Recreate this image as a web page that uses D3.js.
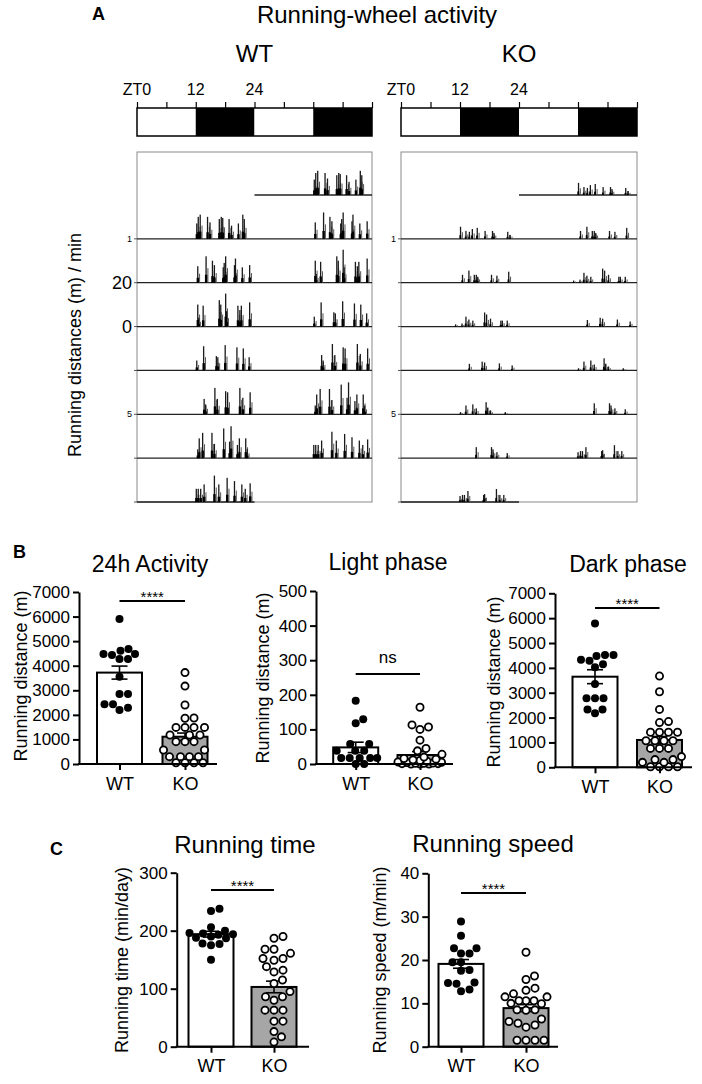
<!DOCTYPE html>
<html>
<head>
<meta charset="utf-8">
<script src="https://cdn.jsdelivr.net/npm/d3@7"></script>
<style>
  body { margin: 0; background: #fff; }
  svg { display: block; font-family: "Liberation Sans", Arial, sans-serif; }
</style>
</head>
<body>
<script>
// ---- data ----
var groups = ["WT", "KO"];

// light/dark schedule of the double-plotted actogram (hours)
var ldPhases = [[0, 12, "light"], [12, 24, "dark"], [24, 36, "light"], [36, 48, "dark"]];
var ztTicks = [0, 6, 12, 18, 24, 30, 36, 42, 48];
var ztLabels = [[0, "ZT0"], [12, "12"], [24, "24"]];

// running bouts per day: [ZT hour, m/min]
var wtBouts = [
    [[12.2, 7], [12.5, 10], [12.9, 11], [14.4, 10], [14.9, 7.5], [16.8, 9], [17.2, 10], [17.5, 9.5], [18.8, 9], [19.3, 6], [20.7, 7], [21.6, 11], [21.9, 9]],
    [[12.4, 7.5], [14.1, 12], [15.4, 10], [15.8, 8], [17.6, 7], [17.8, 9], [18.1, 12], [19.9, 8], [20.1, 11], [21.5, 7], [23.0, 8]],
    [[12.4, 10], [12.6, 4], [13.5, 9.5], [16.8, 12], [17.1, 10], [18.1, 15], [18.3, 7], [20.6, 9.5], [21.0, 7.5], [21.3, 9.5], [23.0, 11]],
    [[12.2, 4.5], [13.6, 11], [16.2, 6.5], [16.5, 6], [18.0, 11.5], [20.4, 10.5], [21.7, 10], [22.9, 6]],
    [[13.7, 7], [14.0, 4.5], [15.9, 12], [16.4, 7], [18.1, 10.5], [18.5, 10], [21.0, 12], [21.6, 7.5], [23.1, 10]],
    [[12.4, 4], [12.7, 9], [13.4, 11.5], [15.3, 11.5], [15.8, 6.5], [17.7, 13.5], [18.9, 7.5], [19.2, 14.5], [20.5, 6], [20.9, 9], [22.2, 9], [22.5, 4]],
    [[12.1, 6], [12.5, 6], [13.0, 6], [13.7, 8], [15.8, 12], [16.7, 8], [18.4, 11], [19.9, 9.5], [21.4, 8], [22.1, 6], [23.1, 8.5]]
];
var koBouts = [
    [[12.1, 5.5], [13.2, 3.6], [13.9, 3.2], [14.5, 4.5], [15.5, 5], [17.1, 3.6], [18.6, 3.6], [18.9, 2.7], [21.7, 3.2], [22.2, 1.8]],
    [[12.5, 3.6], [13.8, 5.5], [14.9, 3.6], [15.3, 3.6], [15.6, 2.7], [18.4, 3.6], [19.5, 3.2], [21.9, 5]],
    [[11.1, 1], [12.4, 1.4], [13.2, 4.5], [13.8, 3.2], [14.6, 2.7], [17.0, 6.4], [17.4, 5.5], [18.2, 3.6], [20.3, 2.7], [20.6, 2.7], [21.6, 2.7]],
    [[13.9, 3], [16.5, 4], [17.0, 3.6], [20.0, 3.2], [22.6, 2.3]],
    [[12.1, 1], [13.2, 4], [14.6, 4.5], [15.3, 2.7], [17.3, 5.5], [17.6, 3], [18.2, 1.8], [21.2, 1]],
    [[15.3, 5], [18.4, 5], [18.7, 4], [19.5, 2.7], [21.6, 2.3]],
    [[12.0, 2.7], [12.5, 3.2], [12.9, 3.2], [13.6, 5], [16.8, 3.2], [17.0, 3.6], [19.4, 5.9], [20.1, 3.2], [20.9, 3.2]]
];
var wtRowLabels = ["", "1", "20", "0", "", "5", "", ""];
var koRowLabels = ["", "1", "", "", "", "5", "", ""];

// B: running distance (m)
var act24WT = [5900, 4610, 4480, 4680, 4270, 4270, 4440, 4480, 3550, 2850, 2850, 2430, 2430, 2200, 2290];
var act24KO = [3720, 3170, 2400, 1860, 1870, 1490, 1490, 1490, 1490, 1180, 1180, 1180, 910, 910, 910, 570, 570, 300, 300, 300, 300, 50, 50, 50, 50];
var act24Mean = [3720, 1110];
var act24Sem = [265, 150];

var lightWT = [183, 129, 118, 58, 58, 38, 38, 38, 17, 17, 17, 17, 17, 0, 0];
var lightKO = [164, 113, 107, 100, 69, 45, 38, 28, 20, 16, 14, 12, 10, 8, 6, 5, 4, 3, 2, 2, 1, 1, 0, 0, 0];
var lightMean = [48, 26];
var lightSem = [15, 10];

var darkWT = [5790, 4520, 4480, 4520, 4330, 4290, 4150, 4020, 3350, 2780, 2780, 2780, 2330, 2330, 2170];
var darkKO = [3670, 3040, 2330, 1800, 1840, 1410, 1410, 1410, 1410, 1070, 1070, 1070, 1070, 760, 760, 760, 430, 310, 310, 200, 200, 20, 20, 20, 20];
var darkMean = [3645, 1100];
var darkSem = [280, 140];

// C: running time (min/day) and speed (m/min)
var timeWT = [238, 234, 206, 200, 196, 195, 194, 193, 190, 188, 187, 178, 177, 175, 150];
var timeKO = [187, 190, 168, 168, 161, 152, 149, 152, 138, 129, 132, 115, 109, 95, 86, 86, 80, 63, 63, 63, 44, 44, 26, 17, 8];
var timeMean = [194, 103];
var timeSem = [5, 10];

var speedWT = [28.9, 25.6, 22.7, 22.7, 21.5, 21.5, 19.5, 19.5, 17.7, 17.5, 14.7, 14.8, 14.5, 13.2, 12.8];
var speedKO = [21.8, 16.3, 15.5, 13.5, 13.0, 12.2, 11.5, 11.5, 10.6, 10.6, 10.6, 10.0, 9.9, 8.5, 8.5, 8.4, 6.4, 5.8, 5.4, 4.5, 5.0, 1.5, 1.5, 1.5, 1.5];
var speedMean = [19.1, 8.9];
var speedSem = [1.0, 0.8];

// ---- drawing ----
var svg = d3.select("body").append("svg")
    .attr("width", 702)
    .attr("height", 1084);

var addText = function(g, txt, x, y, size, anchor, weight) {
    return g.append("text")
        .text(txt)
        .attr("x", x)
        .attr("y", y)
        .attr("font-size", size)
        .attr("text-anchor", anchor || "middle")
        .attr("font-weight", weight || "normal")
        .attr("fill", "#000");
}

var addRotated = function(g, txt, cx, cy, size) {
    g.append("text")
        .text(txt)
        .attr("transform", "translate(" + cx + "," + cy + ") rotate(-90)")
        .attr("text-anchor", "middle")
        .attr("dy", "0.35em")
        .attr("font-size", size)
        .attr("fill", "#000");
}

// panel A
addText(svg, "A", 92, 20, 18, "start", "bold");
addText(svg, "Running-wheel activity", 377, 23, 24);
addRotated(svg, "Running distances (m) / min", 75, 345, 18);

var drawActogram = function(cfg) {
    var x = d3.scaleLinear().domain([0, 48]).range([cfg.left, cfg.right]);
    var rowY = d3.scaleLinear().domain([0, 7]).range([195, 502]);
    var barH = d3.scaleLinear().domain([0, 20]).range([0, 44]);
    var g = svg.append("g");

    addText(g, cfg.name, (cfg.left + cfg.right) / 2, 62, 24);

    // light/dark bar
    g.selectAll("rect.ld")
        .data(ldPhases)
        .enter()
        .append("rect")
        .attr("x", function(d) { return x(d[0]); })
        .attr("y", 108)
        .attr("width", function(d) { return x(d[1]) - x(d[0]); })
        .attr("height", 28)
        .attr("fill", function(d) { return d[2] == "dark" ? "#000" : "#fff"; });
    g.append("rect")
        .attr("x", x(0)).attr("y", 108)
        .attr("width", x(48) - x(0)).attr("height", 28)
        .attr("fill", "none").attr("stroke", "#000").attr("stroke-width", 1.5);

    var ax = g.append("g")
        .attr("transform", "translate(0,108)")
        .call(d3.axisTop(x).tickValues(ztTicks).tickSize(6).tickFormat(""));
    ax.select(".domain").remove();
    ax.selectAll(".tick line").attr("stroke", "#000").attr("stroke-width", 1.2);

    ztLabels.forEach(function(d) {
        addText(g, d[1], x(d[0]), 95, 16);
    });

    // frame
    g.append("rect")
        .attr("x", x(0)).attr("y", 152)
        .attr("width", x(48) - x(0)).attr("height", rowY(7) - 152)
        .attr("fill", "none").attr("stroke", "#8a8a8a").attr("stroke-width", 1);

    // small ticks on the left edge
    g.selectAll("line.rtick")
        .data(d3.range(1, 8))
        .enter()
        .append("line")
        .attr("x1", x(0) - 3).attr("x2", x(0))
        .attr("y1", function(r) { return rowY(r); })
        .attr("y2", function(r) { return rowY(r); })
        .attr("stroke", "#555").attr("stroke-width", 1);

    g.selectAll("text.rlab")
        .data(cfg.rowLabels)
        .enter()
        .append("text")
        .text(function(d) { return d; })
        .attr("x", x(0) - 5)
        .attr("y", function(d, r) { return rowY(r); })
        .attr("dy", "0.35em")
        .attr("text-anchor", "end")
        .attr("font-size", function(d) { return d.length > 1 || d == "0" ? 18 : 9; });

    // baselines: row 0 only has the second day, row 7 only the first
    var rows = d3.range(8).map(function(r) {
        return [r == 0 ? 24 : 0, r == 7 ? 24 : 48, r];
    });
    g.selectAll("line.base")
        .data(rows)
        .enter()
        .append("line")
        .attr("x1", function(d) { return x(d[0]); })
        .attr("x2", function(d) { return x(d[1]); })
        .attr("y1", function(d) { return rowY(d[2]); })
        .attr("y2", function(d) { return rowY(d[2]); })
        .attr("stroke", "#222").attr("stroke-width", 1.3);

    // double plot: day d on the right of row d and on the left of row d+1
    var recs = [];
    cfg.bouts.forEach(function(day, d) {
        day.forEach(function(b) {
            recs.push({ row: d, zt: b[0] + 24, v: b[1] });
            recs.push({ row: d + 1, zt: b[0], v: b[1] });
        });
    });

    g.selectAll("rect.comp")
        .data(recs)
        .enter()
        .append("rect")
        .attr("x", function(d) { return x(d.zt + 0.28); })
        .attr("width", 1)
        .attr("y", function(d) { return rowY(d.row) - barH(d.v) * 0.55; })
        .attr("height", function(d) { return barH(d.v) * 0.55; })
        .attr("fill", "#555");
    g.selectAll("rect.bout")
        .data(recs)
        .enter()
        .append("rect")
        .attr("x", function(d) { return x(d.zt) - 0.6; })
        .attr("width", 1.3)
        .attr("y", function(d) { return rowY(d.row) - barH(d.v); })
        .attr("height", function(d) { return barH(d.v); })
        .attr("fill", "#1a1a1a");
    g.selectAll("rect.dense")
        .data(recs)
        .enter()
        .append("rect")
        .attr("x", function(d) { return x(d.zt) - 1.1; })
        .attr("width", cfg.name == "WT" ? 2.4 : 1.8)
        .attr("y", function(d) { return rowY(d.row) - barH(d.v) * 0.3; })
        .attr("height", function(d) { return barH(d.v) * 0.3; })
        .attr("fill", "#000");
}

drawActogram({ name: "WT", left: 137, right: 372, bouts: wtBouts, rowLabels: wtRowLabels });
drawActogram({ name: "KO", left: 401, right: 637, bouts: koBouts, rowLabels: koRowLabels });

// beeswarm offsets, placed from the lowest point up, kept within +-half;
// when the row is full the least crowded spot is used
var swarm = function(values, y, r, half) {
    var placed = [];
    var dmin = 2 * r + 0.4;
    var pts = values.map(function(v) { return { v: v, y: y(v) }; })
        .sort(function(a, b) { return b.y - a.y; });
    pts.forEach(function(p) {
        var bestOff = 0, bestGap = -1;
        for (var k = 0; k <= 4 * half; k++) {
            var off = k == 0 ? 0 : (k % 2 ? 1 : -1) * Math.ceil(k / 2) * 0.5;
            var gap = Infinity;
            placed.forEach(function(q) {
                var dx = off - q.dx, dy = p.y - q.y;
                gap = Math.min(gap, Math.sqrt(dx * dx + dy * dy));
            });
            if (gap >= dmin) { bestOff = off; bestGap = gap; break; }
            if (gap > bestGap + 0.5) { bestGap = gap; bestOff = off; }
        }
        p.dx = bestOff;
        placed.push(p);
    });
    return pts;
}

var drawBarChart = function(c) {
    var y = d3.scaleLinear().domain([0, c.max]).range([c.bottom, c.top]);
    var x = d3.scalePoint().domain(groups).range(c.centers);
    var g = svg.append("g");
    var bw = 45;

    addText(g, c.title, c.titleX, c.titleY, c.titleSize);
    addRotated(g, c.ylab, c.ylabX, c.ylabY, 18);

    g.selectAll("rect.bar")
        .data(groups)
        .enter()
        .append("rect")
        .attr("x", function(d) { return x(d) - bw / 2; })
        .attr("width", bw)
        .attr("y", function(d, i) { return y(c.mean[i]); })
        .attr("height", function(d, i) { return c.bottom - y(c.mean[i]); })
        .attr("fill", function(d, i) { return i ? "#a6a6a6" : "#fff"; })
        .attr("stroke", "#000")
        .attr("stroke-width", 2);

    // error bars (SEM)
    groups.forEach(function(grp, i) {
        var cx = x(grp), hi = y(c.mean[i] + c.sem[i]), lo = y(c.mean[i] - c.sem[i]);
        g.append("line").attr("x1", cx).attr("x2", cx).attr("y1", hi).attr("y2", lo)
            .attr("stroke", "#000").attr("stroke-width", 1.6);
        [hi, lo].forEach(function(yy) {
            g.append("line").attr("x1", cx - 8).attr("x2", cx + 8).attr("y1", yy).attr("y2", yy)
                .attr("stroke", "#000").attr("stroke-width", 1.6);
        });
    });

    // individual animals
    [c.wt, c.ko].forEach(function(vals, i) {
        var r = i ? 3.6 : 4;
        g.selectAll("circle.p" + i)
            .data(swarm(vals, y, i ? 4.2 : 4, 22))
            .enter()
            .append("circle")
            .attr("cx", function(d) { return x(groups[i]) + d.dx; })
            .attr("cy", function(d) { return d.y; })
            .attr("r", r)
            .attr("fill", i ? "#fff" : "#000")
            .attr("stroke", "#000")
            .attr("stroke-width", i ? 1.8 : 0);
    });

    var ya = g.append("g")
        .attr("transform", "translate(" + c.axisX + ",0)")
        .call(d3.axisLeft(y).tickValues(c.ticks).tickFormat(d3.format("d"))
            .tickSize(6).tickSizeOuter(0).tickPadding(3));
    ya.attr("font-family", null).attr("font-size", 17);
    ya.selectAll("path, line").attr("stroke", "#000").attr("stroke-width", 2);
    ya.selectAll("text").attr("fill", "#000");

    g.append("line")
        .attr("x1", c.axisX - 1).attr("x2", c.axisEnd)
        .attr("y1", c.bottom).attr("y2", c.bottom)
        .attr("stroke", "#000").attr("stroke-width", 2);

    var xa = g.append("g")
        .attr("transform", "translate(0," + c.bottom + ")")
        .call(d3.axisBottom(x).tickSize(6).tickPadding(7));
    xa.select(".domain").remove();
    xa.attr("font-family", null).attr("font-size", 18);
    xa.selectAll("line").attr("stroke", "#000").attr("stroke-width", 2);
    xa.selectAll("text").attr("fill", "#000");

    // significance
    g.append("line")
        .attr("x1", c.centers[0]).attr("x2", c.centers[1])
        .attr("y1", c.sigY).attr("y2", c.sigY)
        .attr("stroke", "#000").attr("stroke-width", 2);
    if (c.sig == "ns") {
        addText(g, c.sig, (c.centers[0] + c.centers[1]) / 2, c.sigY - 11, 17);
    } else {
        addText(g, c.sig, (c.centers[0] + c.centers[1]) / 2, c.sigY + 1, 15);
    }
}

addText(svg, "B", 13, 558, 18, "start", "bold");
addText(svg, "C", 50, 855, 18, "start", "bold");

drawBarChart({
    title: "24h Activity", titleX: 150, titleY: 572, titleSize: 23,
    ylab: "Running distance (m)", ylabX: 21, ylabY: 676,
    axisX: 79, axisEnd: 217, top: 592, bottom: 764, centers: [119.5, 185],
    max: 7000, ticks: d3.range(0, 7001, 1000),
    wt: act24WT, ko: act24KO, mean: act24Mean, sem: act24Sem,
    sig: "****", sigY: 601
});
drawBarChart({
    title: "Light phase", titleX: 388, titleY: 570, titleSize: 23,
    ylab: "Running distance (m)", ylabX: 263, ylabY: 678,
    axisX: 316, axisEnd: 453, top: 591, bottom: 764, centers: [355.7, 420],
    max: 500, ticks: d3.range(0, 501, 100),
    wt: lightWT, ko: lightKO, mean: lightMean, sem: lightSem,
    sig: "ns", sigY: 674
});
drawBarChart({
    title: "Dark phase", titleX: 628, titleY: 572, titleSize: 23,
    ylab: "Running distance (m)", ylabX: 494, ylabY: 682,
    axisX: 555, axisEnd: 692, top: 593.3, bottom: 767.3, centers: [595, 659.5],
    max: 7000, ticks: d3.range(0, 7001, 1000),
    wt: darkWT, ko: darkKO, mean: darkMean, sem: darkSem,
    sig: "****", sigY: 608
});
drawBarChart({
    title: "Running time", titleX: 245, titleY: 853, titleSize: 24,
    ylab: "Running time (min/day)", ylabX: 122, ylabY: 960,
    axisX: 176.7, axisEnd: 309, top: 872.7, bottom: 1046.7, centers: [211, 274],
    max: 300, ticks: [0, 100, 200, 300],
    wt: timeWT, ko: timeKO, mean: timeMean, sem: timeSem,
    sig: "****", sigY: 890
});
drawBarChart({
    title: "Running speed", titleX: 493, titleY: 852, titleSize: 24,
    ylab: "Running speed (m/min)", ylabX: 380, ylabY: 960,
    axisX: 428.3, axisEnd: 558, top: 873.3, bottom: 1046.7, centers: [461, 526],
    max: 40, ticks: [0, 10, 20, 30, 40],
    wt: speedWT, ko: speedKO, mean: speedMean, sem: speedSem,
    sig: "****", sigY: 893
});
</script>
</body>
</html>
